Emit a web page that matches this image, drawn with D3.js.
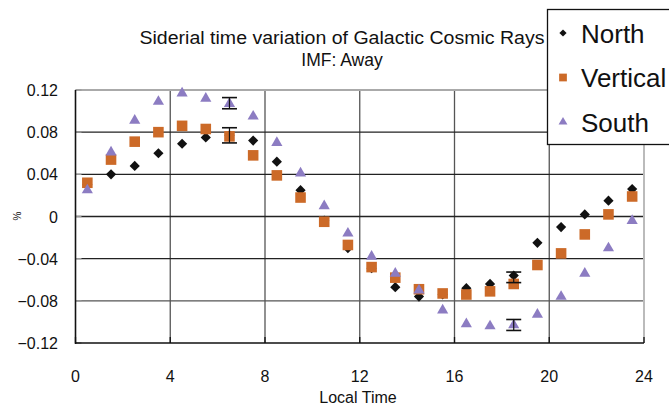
<!DOCTYPE html>
<html><head><meta charset="utf-8">
<script src="https://cdn.jsdelivr.net/npm/d3@7"></script>
<style>body{margin:0;background:#fff}svg{display:block}text{font-family:"Liberation Sans",Arial,sans-serif}</style>
</head><body><svg id="c" width="669" height="407"></svg>
<script>
const hours = [0.5,1.5,2.5,3.5,4.5,5.5,6.5,7.5,8.5,9.5,10.5,11.5,12.5,13.5,14.5,15.5,16.5,17.5,18.5,19.5,20.5,21.5,22.5,23.5];
const north = [0.030,0.040,0.048,0.060,0.069,0.075,0.077,0.072,0.052,0.025,-0.004,-0.030,-0.049,-0.067,-0.076,-0.074,-0.068,-0.064,-0.056,-0.025,-0.010,0.002,0.015,0.026];
const vertical = [0.032,0.054,0.071,0.080,0.086,0.083,0.076,0.058,0.039,0.018,-0.005,-0.027,-0.048,-0.058,-0.069,-0.073,-0.074,-0.071,-0.064,-0.046,-0.035,-0.017,0.002,0.019];
const south = [0.025,0.061,0.091,0.109,0.117,0.112,0.107,0.095,0.070,0.041,0.010,-0.016,-0.038,-0.054,-0.070,-0.089,-0.102,-0.104,-0.103,-0.093,-0.076,-0.054,-0.030,-0.004];
// error bars: [hour, centre, half-width]
const errNorth = [[6.5,0.077,0.0072],[18.5,-0.0577,0.005]];
const errSouth = [[6.5,0.1075,0.0053],[18.5,-0.1029,0.0052]];
const xTicks = [0,4,8,12,16,20,24];
const yTicks = [0.12,0.08,0.04,0,-0.04,-0.08,-0.12];
const yTickLabels = ["0.12","0.08","0.04","0","\u22120.04","\u22120.08","\u22120.12"];
const seriesNames = ["North","Vertical","South"];
const seriesColors = ["#111111","#cc6a28","#8c7cc2"];

const svg = d3.select("#c");
const x = d3.scaleLinear().domain([0,24]).range([75.5,644]);
const y = d3.scaleLinear().domain([-0.12,0.12]).range([343,90]);

// gridlines
const g = svg.append("g");
g.selectAll(".vg").data(xTicks.slice(1,-1)).join("line")
  .attr("x1",d=>x(d)).attr("x2",d=>x(d)).attr("y1",y(0.12)).attr("y2",y(-0.12))
  .attr("stroke","#555").attr("stroke-width",1.3);
g.selectAll(".hg").data(yTicks.slice(1,-1)).join("line")
  .attr("x1",x(0)).attr("x2",x(24)).attr("y1",d=>y(d)).attr("y2",d=>y(d))
  .attr("stroke",d=>d===-0.08?"#555":"#222").attr("stroke-width",1.3);
// top & right borders
g.append("line").attr("x1",x(0)).attr("x2",x(24)).attr("y1",y(0.12)).attr("y2",y(0.12)).attr("stroke","#aaa").attr("stroke-width",2);
g.append("line").attr("x1",x(24)).attr("x2",x(24)).attr("y1",y(0.12)).attr("y2",y(-0.12)).attr("stroke","#bbb").attr("stroke-width",2);
// inner ticks
g.selectAll(".yt").data(yTicks).join("line")
  .attr("x1",x(0)).attr("x2",x(0)+6).attr("y1",d=>y(d)).attr("y2",d=>y(d)).attr("stroke","#999").attr("stroke-width",1.3);
g.selectAll(".xt").data(xTicks).join("line")
  .attr("x1",d=>x(d)).attr("x2",d=>x(d)).attr("y1",y(-0.12)).attr("y2",y(-0.12)-6).attr("stroke","#111").attr("stroke-width",1.3);
// axes
g.append("line").attr("x1",x(0)).attr("x2",x(0)).attr("y1",y(0.12)).attr("y2",y(-0.12)+1).attr("stroke","#111").attr("stroke-width",1.6);
g.append("line").attr("x1",x(0)).attr("x2",x(24)).attr("y1",y(-0.12)).attr("y2",y(-0.12)).attr("stroke","#111").attr("stroke-width",1.6);

// tick labels
svg.selectAll(".yl").data(yTicks).join("text")
  .attr("x",58).attr("y",d=>y(d)+6).attr("text-anchor","end").attr("font-size",16).attr("fill","#111")
  .text((d,i)=>yTickLabels[i]);
svg.selectAll(".xl").data(xTicks).join("text")
  .attr("x",d=>x(d)).attr("y",382).attr("text-anchor","middle").attr("font-size",16).attr("fill","#111")
  .text(d=>d);
svg.append("text").attr("x",358).attr("y",403).attr("text-anchor","middle").attr("font-size",16).attr("fill","#111").text("Local Time");
svg.append("text").attr("transform","translate(21,216) rotate(-90)").attr("text-anchor","middle").attr("font-size",10).attr("fill","#111").text("%");

// title
svg.append("text").attr("x",342).attr("y",44).attr("text-anchor","middle").attr("font-size",17.5).attr("fill","#111")
  .attr("textLength",405).attr("lengthAdjust","spacingAndGlyphs").text("Siderial time variation of Galactic Cosmic Rays");
svg.append("text").attr("x",342).attr("y",66).attr("text-anchor","middle").attr("font-size",17.5).attr("fill","#111").text("IMF: Away");

// markers
const symDiamond = d3.symbol().type(d3.symbolSquare).size(52);
const symSquare = d3.symbol().type(d3.symbolSquare).size(112);
const symTri = d3.symbol().type(d3.symbolTriangle).size(54);
const series = [north,vertical,south];
const syms = [symDiamond,symSquare,symTri];
const rot = [45,0,0];
series.forEach((vals,si)=>{
  svg.append("g").selectAll("path").data(hours).join("path")
    .attr("d",syms[si]())
    .attr("transform",(h,i)=>`translate(${x(h)},${y(vals[i])}) rotate(${rot[si]})`)
    .attr("fill",seriesColors[si]);
});

// error bars
const eg = svg.append("g").attr("stroke","#111").attr("stroke-width",1.6);
[...errNorth,...errSouth].forEach(e=>{
  const cx = x(e[0]), y1 = y(e[1]+e[2]), y2 = y(e[1]-e[2]);
  eg.append("line").attr("x1",cx).attr("x2",cx).attr("y1",y1).attr("y2",y2).attr("stroke-width",1.2);
  eg.append("line").attr("x1",cx-7.5).attr("x2",cx+7.5).attr("y1",y1).attr("y2",y1);
  eg.append("line").attr("x1",cx-7.5).attr("x2",cx+7.5).attr("y1",y2).attr("y2",y2);
});

// legend
const lg = svg.append("g");
lg.append("rect").attr("x",547.5).attr("y",9.5).attr("width",140).attr("height",135)
  .attr("fill","#fff").attr("stroke","#111").attr("stroke-width",1.3);
const lsyms = [d3.symbol().type(d3.symbolSquare).size(26), d3.symbol().type(d3.symbolSquare).size(60), d3.symbol().type(d3.symbolTriangle).size(34)];
seriesNames.forEach((n,i)=>{
  const cy = 33 + i*44.5;
  lg.append("path").attr("d",lsyms[i]()).attr("transform",`translate(563,${cy}) rotate(${rot[i]})`).attr("fill",seriesColors[i]);
  lg.append("text").attr("x",581).attr("y",cy+9.5).attr("font-size",26).attr("fill","#111").text(n);
});
</script></body></html>
